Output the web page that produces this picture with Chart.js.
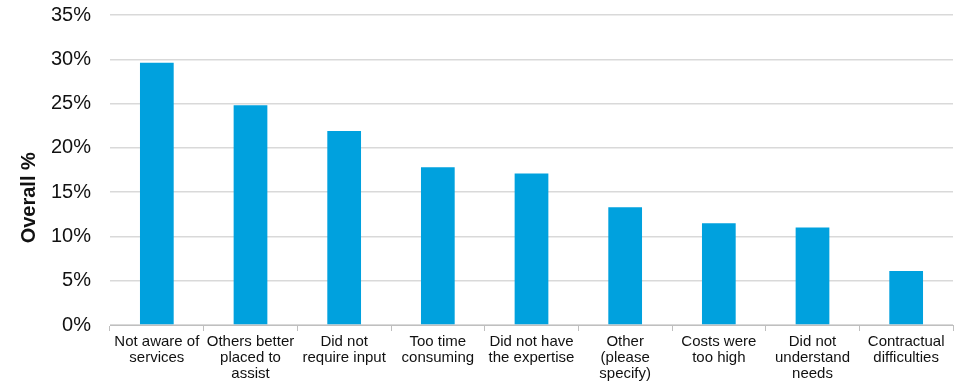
<!DOCTYPE html>
<html>
<head>
<meta charset="utf-8">
<script src="https://cdn.jsdelivr.net/npm/chart.js@4/dist/chart.umd.min.js"></script>
<style>
  html, body { margin: 0; padding: 0; background: #fff; }
  #wrap { width: 963px; height: 382px; }
</style>
</head>
<body>
<div id="wrap"><canvas id="chart"></canvas></div>
<script>
// reasons, share of respondents (%)
const reasons = [
    ['Not aware of', 'services'],
    ['Others better', 'placed to', 'assist'],
    ['Did not', 'require input'],
    ['Too time', 'consuming'],
    ['Did not have', 'the expertise'],
    ['Other', '(please', 'specify)'],
    ['Costs were', 'too high'],
    ['Did not', 'understand', 'needs'],
    ['Contractual', 'difficulties']
];
const overall = [29.6, 24.8, 21.9, 17.8, 17.1, 13.3, 11.5, 11.0, 6.1];
const yTicks = [0, 5, 10, 15, 20, 25, 30, 35];

const ctx = document.querySelector('#chart').getContext('2d');

const chart = new Chart(ctx, {
    type: 'bar',
    data: {
        labels: reasons,
        datasets: [{
            data: overall,
            backgroundColor: '#00A1DE',
            borderWidth: 0,
            barPercentage: 0.36,
            categoryPercentage: 1
        }]
    },
    options: {
        responsive: true,
        maintainAspectRatio: false,
        animation: false,
        layout: { padding: { left: 0, right: 10, top: 15, bottom: 0 } },
        plugins: {
            legend: { display: false },
            tooltip: { enabled: false }
        },
        scales: {
            x: {
                grid: {
                    offset: true,
                    drawOnChartArea: false,
                    drawTicks: true,
                    tickLength: 6,
                    color: '#bfbfbf'
                },
                border: { display: true, color: '#bfbfbf', width: 1 },
                ticks: {
                    maxRotation: 0,
                    autoSkip: false,
                    padding: 3,
                    color: '#111',
                    font: { family: 'Liberation Sans', size: 15, lineHeight: 1.07 }
                },
                afterFit: scale => { scale.height = 57; }
            },
            y: {
                min: 0,
                max: 35,
                afterBuildTicks: scale => {
                    scale.ticks = yTicks.map(v => ({ value: v }));
                },
                grid: {
                    color: '#d9d9d9',
                    lineWidth: 1.5,
                    drawTicks: false
                },
                border: { display: false },
                ticks: {
                    padding: 19,
                    color: '#111',
                    font: { family: 'Liberation Sans', size: 20 },
                    callback: v => v + '%'
                },
                title: {
                    display: true,
                    // trailing spaces push the rotated title a little lower
                    text: 'Overall %          ',
                    color: '#111',
                    padding: { top: 17, bottom: 0 },
                    font: { family: 'Liberation Sans', size: 20, weight: 'bold' }
                },
                afterFit: scale => {
                    scale.width = 110;
                    scale.paddingTop = 0;
                    scale.paddingBottom = 0;
                }
            }
        }
    }
});
</script>
</body>
</html>
